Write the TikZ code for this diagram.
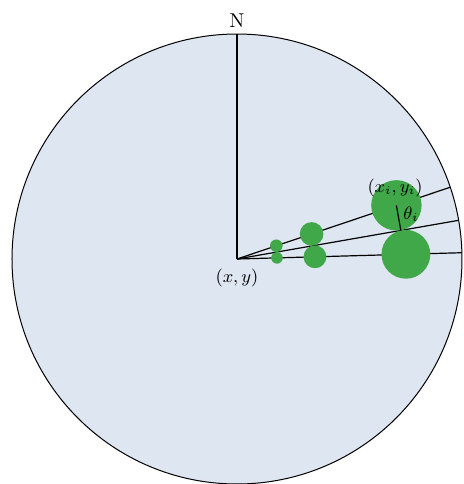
\documentclass[tikz,border=0pt]{standalone}
\usepackage{amsmath}
\usepackage{xcolor}
\usepackage{tikz}
\usetikzlibrary{positioning}

\definecolor{diskblue}{RGB}{222,230,242}
\definecolor{dotgreen}{RGB}{64,168,72}

\begin{document}
\begin{tikzpicture}[
    x=0.5pt, y=0.5pt,
    disk/.style={draw=black, fill=diskblue, line width=0.5pt},
    ray/.style={draw=black, line width=0.6pt},
    dot/.style={circle, fill=dotgreen, inner sep=0pt},
    lbl/.style={font=\small, inner sep=1pt}
]
    \useasboundingbox (-237,-225) rectangle (227,259);

    % Disk
    \coordinate (O) at (0,0);
    \draw[disk] (O) circle (225);

    % Rim points
    \coordinate (North) at (90:225);
    \coordinate (R1) at (18.6:225);
    \coordinate (R2) at (9.9:225);
    \coordinate (R3) at (1.6:225);
    \coordinate (T) at (9.9:166.3);

    % Rays
    \draw[ray] (O) -- (North);
    \draw[ray] (O) -- (R1);
    \draw[ray] (O) -- (R2);
    \draw[ray] (O) -- (R3);

    % Dots
    \node[dot, minimum size=6.3pt] (S1) at (18.6:41.5) {};
    \node[dot, minimum size=5.8pt] (S3) at (1.6:40) {};
    \node[dot, minimum size=11.8pt] (M1) at (18.6:78.7) {};
    \node[dot, minimum size=11.4pt] (M3) at (1.6:78) {};
    \node[dot, minimum size=25.2pt] (B1) at (18.6:168.2) {};
    \node[dot, minimum size=24.4pt] (B3) at (1.6:169) {};
    \draw[ray] (B1.center) -- (T);

    % Labels
    \node[lbl, font=\normalsize, above=2pt of North] (N) {N};
    \node[lbl] (XY) at (0,-19) {$(x,y)$};
    \node[lbl] (XYi) at (158,71) {$(x_i,y_i)$};
    \node[lbl] (TH) at (174,45) {$\theta_i$};
\end{tikzpicture}
\end{document}
